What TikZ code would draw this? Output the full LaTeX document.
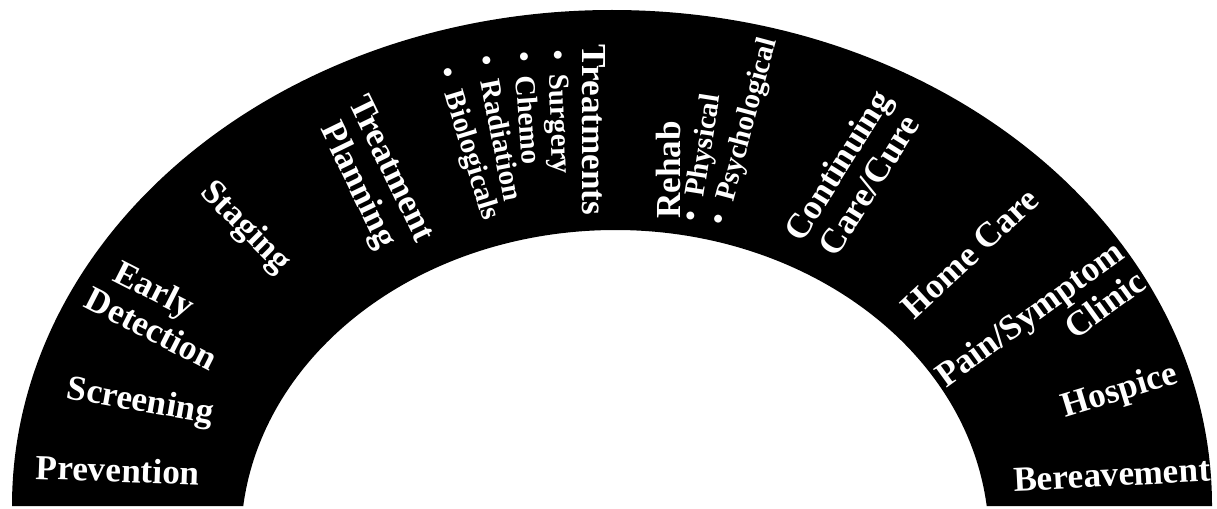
\documentclass[tikz,border=0pt]{standalone}
\usepackage{fontspec}
\setmainfont{Liberation Serif}
\usepackage{tikz}

\begin{document}
\begin{tikzpicture}[x=0.02cm,y=0.02cm,
  lab/.style={text=white,font=\bfseries\fontsize{20}{21}\selectfont,inner sep=0pt,align=center},
  itm/.style={text=white,font=\bfseries\fontsize{16.5}{18}\selectfont,inner sep=0pt}]
\useasboundingbox (0,0) rectangle (1217,508);
\fill[black] (12,2) arc[start angle=180,end angle=0,x radius=600,y radius=496]
  -- (986.7,2) arc[start angle=6.30,end angle=173.70,x radius=374,y radius=310] -- cycle;
\node[lab,rotate=-2]  (prev) at (118,38)  {Prevention};
\node[lab,rotate=-10] (scr)  at (140,105) {Screening};
\node[lab,rotate=-27,align=left] (early) at (160,196) {\hspace{0.4em}Early\\Detection};
\node[lab,rotate=-45] (stag) at (245,280) {Staging};
\node[lab,rotate=-64] (plan) at (373,330) {Treatment\\Planning};
\node[itm,rotate=-73] (bio)  at (467,364) {\textbullet\hspace{0.5em}Biologicals};
\node[itm,rotate=-79] (rad)  at (500,380) {\textbullet\hspace{0.5em}Radiation};
\node[itm,rotate=-86] (chem) at (528,400) {\textbullet\hspace{0.5em}Chemo};
\node[itm,rotate=-88] (surg) at (557,396) {\textbullet\hspace{0.5em}Surgery};
\node[lab,rotate=-90] (treat) at (594,378) {Treatments};
\node[lab,rotate=90]  (rehab) at (668,338) {Rehab};
\node[itm,rotate=81]  (phys) at (703,350) {\textbullet\hspace{0.5em}Physical};
\node[itm,rotate=75]  (psy)  at (745,376) {\textbullet\hspace{0.5em}Psychological};
\node[lab,rotate=58]  (cont) at (853,333) {Continuing\\Care/Cure};
\node[lab,rotate=43]  (home) at (970,255) {Home Care};
\node[lab,rotate=36,align=right] (pain) at (1040,180) {Pain/Symptom\\Clinic};
\node[lab,rotate=17]  (hosp) at (1120,116) {Hospice};
\node[lab,rotate=3]   (ber)  at (1112,33) {Bereavement};
\end{tikzpicture}
\end{document}
